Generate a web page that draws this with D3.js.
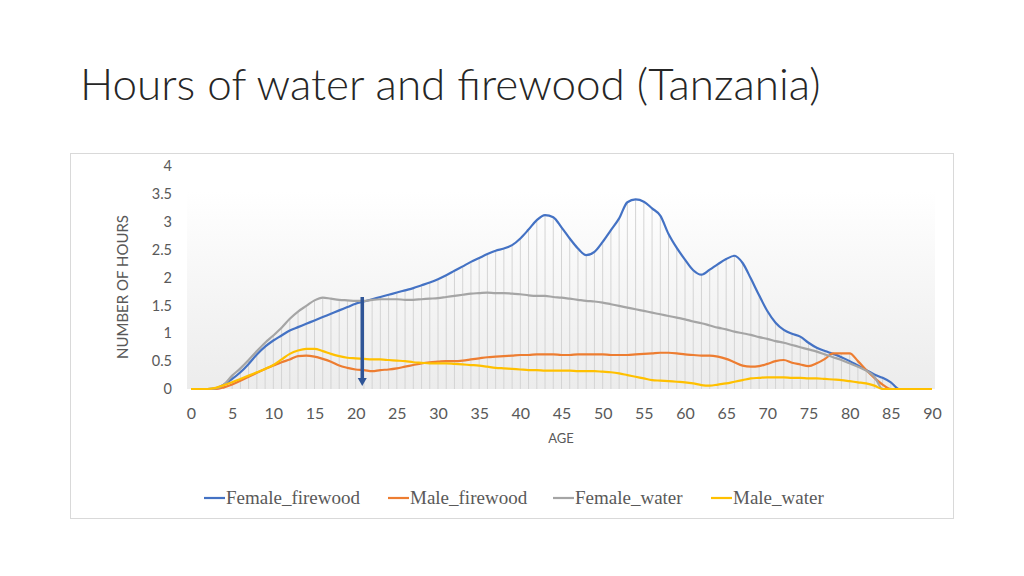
<!DOCTYPE html>
<html><head><meta charset="utf-8">
<script src="https://cdn.jsdelivr.net/npm/d3@7"></script>
<style>body{margin:0;background:#fff}svg{display:block}</style>
</head><body>
<script>
const title = "Hours of water and firewood (Tanzania)";
const ages = d3.range(0, 91);
const xTicks = [0,5,10,15,20,25,30,35,40,45,50,55,60,65,70,75,80,85,90];
const yTicks = [0,0.5,1,1.5,2,2.5,3,3.5,4];
const seriesNames = ["Female_firewood","Male_firewood","Female_water","Male_water"];
const colors = ["#4472C4","#ED7D31","#A5A5A5","#FFC000"];
const femaleFirewood = [0,0,0,0.01,0.08,0.18,0.3,0.45,0.62,0.76,0.87,0.96,1.05,1.11,1.17,1.23,1.29,1.35,1.41,1.47,1.53,1.57,1.61,1.65,1.69,1.73,1.77,1.81,1.86,1.91,1.97,2.04,2.12,2.2,2.28,2.35,2.42,2.48,2.52,2.58,2.7,2.86,3.03,3.12,3.08,2.9,2.7,2.52,2.4,2.46,2.64,2.85,3.06,3.35,3.4,3.36,3.24,3.11,2.78,2.53,2.32,2.13,2.05,2.14,2.24,2.33,2.39,2.26,1.98,1.68,1.4,1.19,1.06,0.99,0.94,0.83,0.74,0.68,0.63,0.57,0.5,0.42,0.34,0.26,0.2,0.12,0,0,0,0,0];
const maleFirewood = [0,0,0,0,0.03,0.08,0.15,0.22,0.29,0.36,0.42,0.48,0.53,0.59,0.6,0.58,0.54,0.49,0.42,0.38,0.35,0.34,0.32,0.34,0.35,0.37,0.4,0.43,0.46,0.48,0.49,0.5,0.5,0.51,0.53,0.55,0.57,0.58,0.59,0.6,0.61,0.61,0.62,0.62,0.62,0.61,0.61,0.62,0.62,0.62,0.62,0.61,0.61,0.61,0.62,0.63,0.64,0.65,0.65,0.64,0.62,0.61,0.6,0.6,0.58,0.54,0.48,0.42,0.4,0.41,0.45,0.5,0.52,0.47,0.44,0.41,0.46,0.54,0.64,0.64,0.64,0.5,0.34,0.2,0.08,0,0,0,0,0,0];
const femaleWater = [0,0,0,0.01,0.08,0.24,0.37,0.52,0.68,0.83,0.96,1.1,1.26,1.39,1.49,1.59,1.64,1.62,1.6,1.59,1.58,1.58,1.6,1.61,1.61,1.61,1.6,1.6,1.61,1.62,1.63,1.65,1.67,1.69,1.71,1.72,1.73,1.72,1.72,1.71,1.7,1.68,1.67,1.67,1.65,1.64,1.62,1.6,1.58,1.57,1.55,1.52,1.49,1.46,1.43,1.4,1.37,1.34,1.31,1.28,1.25,1.21,1.18,1.14,1.1,1.07,1.03,1.0,0.97,0.93,0.9,0.86,0.83,0.79,0.75,0.71,0.67,0.62,0.57,0.52,0.46,0.4,0.33,0.22,0,0,0,0,0,0,0];
const maleWater = [0,0,0,0.02,0.07,0.12,0.18,0.24,0.3,0.36,0.43,0.53,0.63,0.69,0.72,0.72,0.68,0.63,0.59,0.56,0.55,0.54,0.53,0.53,0.52,0.51,0.5,0.48,0.47,0.46,0.46,0.46,0.45,0.44,0.43,0.42,0.4,0.38,0.37,0.36,0.35,0.34,0.34,0.33,0.33,0.33,0.33,0.32,0.32,0.32,0.31,0.3,0.28,0.25,0.22,0.19,0.16,0.15,0.14,0.13,0.12,0.1,0.07,0.06,0.08,0.1,0.13,0.16,0.19,0.2,0.21,0.21,0.21,0.2,0.2,0.19,0.19,0.18,0.17,0.16,0.14,0.12,0.1,0.06,0,0,0,0,0,0,0];
const arrowAge = 20.8, arrowFrom = 1.65, arrowTo = 0.07;

const W = 1024, H = 576;
const svg = d3.select("body").append("svg").attr("width", W).attr("height", H)
  .style("font-family", "Lato, 'Open Sans', sans-serif");

svg.append("text").attr("x", 80).attr("y", 100).text(title)
  .attr("font-size", 44).attr("font-weight", 300).attr("fill", "#262626");

svg.append("rect").attr("x", 70.5).attr("y", 153.5).attr("width", 883).attr("height", 365)
  .attr("fill", "#fff").attr("stroke", "#d9d9d9");

const x = d3.scaleLinear().domain([0, 90]).range([191, 932]);
const y = d3.scaleLinear().domain([0, 4]).range([389, 166]);

const defs = svg.append("defs");
const g = defs.append("linearGradient").attr("id", "bg").attr("x1", 0).attr("y1", 0).attr("x2", 0).attr("y2", 1);
g.append("stop").attr("offset", "0%").attr("stop-color", "#ffffff");
g.append("stop").attr("offset", "100%").attr("stop-color", "#ececec");
svg.append("rect").attr("x", 187).attr("y", y(3.55)).attr("width", 935 - 187).attr("height", y(0) - y(3.55))
  .attr("fill", "url(#bg)");

const all = [femaleFirewood, maleFirewood, femaleWater, maleWater];
// drop lines
svg.append("g").selectAll("line").data(ages).join("line")
  .attr("x1", d => x(d)).attr("x2", d => x(d))
  .attr("y1", d => y(d3.max(all, s => s[d]))).attr("y2", y(0))
  .attr("stroke", "#d4d4d4").attr("stroke-width", 1);

// axes
const yAxis = d3.axisLeft(y).tickValues(yTicks).tickSize(0).tickPadding(0).tickFormat(d3.format("~g"));
const ya = svg.append("g").attr("transform", "translate(172,0)").call(yAxis);
ya.select(".domain").remove();
ya.selectAll("text").attr("font-size", 14.5).attr("fill", "#595959").attr("font-family", "Lato, sans-serif");

const xAxis = d3.axisBottom(x).tickValues(xTicks).tickSize(0).tickPadding(0);
const xa = svg.append("g").attr("transform", "translate(0,408)").call(xAxis);
xa.select(".domain").remove();
xa.selectAll("text").attr("font-size", 16).attr("fill", "#595959").attr("font-family", "Lato, sans-serif");

svg.append("text").attr("transform", "translate(128,287) rotate(-90)").attr("text-anchor", "middle")
  .attr("font-size", 15).attr("fill", "#595959").text("NUMBER OF HOURS");
svg.append("text").attr("x", 561).attr("y", 443).attr("text-anchor", "middle")
  .attr("font-size", 13).attr("fill", "#595959").text("AGE");

const line = d3.line().x((d, i) => x(ages[i])).y(d => y(d)).curve(d3.curveMonotoneX);
all.forEach((s, i) => {
  svg.append("path").attr("d", line(s)).attr("fill", "none")
    .attr("stroke", colors[i]).attr("stroke-width", 2.2).attr("stroke-linejoin", "round");
});

// arrow annotation
const ax = x(arrowAge);
svg.append("line").attr("x1", ax).attr("x2", ax).attr("y1", y(arrowFrom)).attr("y2", y(arrowTo) - 5)
  .attr("stroke", "#2F5597").attr("stroke-width", 3.5);
svg.append("path").attr("d", `M${ax-4.5},${y(arrowTo)-7} L${ax+4.5},${y(arrowTo)-7} L${ax},${y(arrowTo)+1} Z`)
  .attr("fill", "#2F5597");

// legend
const legX = [204, 388, 553, 711];
const leg = svg.append("g");
seriesNames.forEach((n, i) => {
  leg.append("line").attr("x1", legX[i]).attr("x2", legX[i] + 21).attr("y1", 498).attr("y2", 498)
    .attr("stroke", colors[i]).attr("stroke-width", 2.2);
  leg.append("text").attr("x", legX[i] + 22).attr("y", 504).text(n)
    .attr("font-family", "'Liberation Serif', 'Times New Roman', serif").attr("font-size", 19).attr("fill", "#595959");
});
</script>
</body></html>
